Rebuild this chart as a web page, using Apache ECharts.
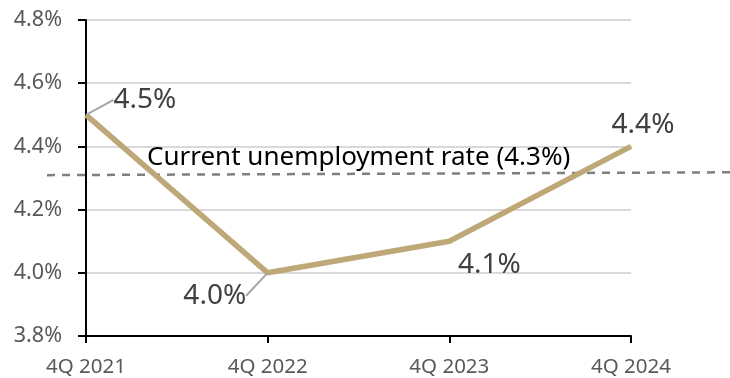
<!DOCTYPE html>
<html><head><meta charset="utf-8">
<script src="https://cdn.jsdelivr.net/npm/echarts@6/dist/echarts.min.js"></script>
<style>html,body{margin:0;padding:0;background:#fff}#c{width:730px;height:378px}</style>
</head><body><div id="c"></div>
<script>
const categories = ['4Q 2021', '4Q 2022', '4Q 2023', '4Q 2024'];
const rates = [4.5, 4.0, 4.1, 4.4];
const currentRateLine = [4.309, 4.318];
const currentRateText = 'Current unemployment rate (4.3%)';
const yMin = 3.8, yMax = 4.8, yStep = 0.2;

const FONT = '"Noto Sans", sans-serif';
const chart = echarts.init(document.getElementById('c'), null, {renderer: 'canvas'});

const labelOffsets = [
  {position: 'right', dx: 22, dy: -15},
  {position: 'left', dx: -16, dy: 23},
  {position: 'bottom', dx: 40, dy: 4},
  {position: 'top', dx: 12, dy: -2}
];

chart.setOption({
  animation: false,
  grid: [
    {left: 86, right: 99, top: 20, bottom: 42},
    {left: 47, right: 0, top: 20, bottom: 42}
  ],
  xAxis: [
    {type: 'category', data: categories, boundaryGap: false, gridIndex: 0,
     axisLine: {lineStyle: {color: '#000', width: 2}},
     axisTick: {show: true, length: 7, lineStyle: {color: '#000', width: 2}},
     axisLabel: {color: '#595959', fontSize: 20.5, fontFamily: FONT, margin: 21}},
    {type: 'value', min: 0, max: 1, gridIndex: 1, show: false}
  ],
  yAxis: [
    {type: 'value', min: yMin, max: yMax, interval: yStep, gridIndex: 0,
     axisLine: {show: true, lineStyle: {color: '#000', width: 2}},
     axisTick: {show: true, length: 8, lineStyle: {color: '#000', width: 2}},
     splitLine: {lineStyle: {color: '#d9d9d9', width: 2}},
     axisLabel: {color: '#595959', fontSize: 21.5, fontFamily: FONT, margin: 24,
       formatter: v => v.toFixed(1) + '%'}},
    {type: 'value', min: yMin, max: yMax, gridIndex: 1, show: false}
  ],
  title: {text: currentRateText, left: 142, top: 140,
    textStyle: {color: '#000', fontSize: 26, fontWeight: 'normal', fontFamily: FONT}},
  series: [
    {type: 'line', xAxisIndex: 1, yAxisIndex: 1, z: 1,
     data: currentRateLine.map((v, i) => [i, v]), symbol: 'none',
     lineStyle: {color: '#7f7f7f', width: 2.5, type: [8, 7]}},
    {type: 'line', xAxisIndex: 0, yAxisIndex: 0, z: 3,
     data: rates.map((v, i) => ({value: v,
       label: {position: labelOffsets[i].position},
       labelLine: {show: i < 2}})),
     symbol: 'circle', symbolSize: 1, showSymbol: true,
     itemStyle: {color: '#BFA877'},
     lineStyle: {color: '#BFA877', width: 5.5},
     label: {show: true, color: '#404040', fontSize: 28, fontFamily: FONT,
       formatter: p => p.value.toFixed(1) + '%'},
     labelLine: {show: true, lineStyle: {color: '#a6a6a6', width: 2}},
     labelLayout: p => ({dx: labelOffsets[p.dataIndex].dx, dy: labelOffsets[p.dataIndex].dy})}
  ]
});
</script></body></html>
